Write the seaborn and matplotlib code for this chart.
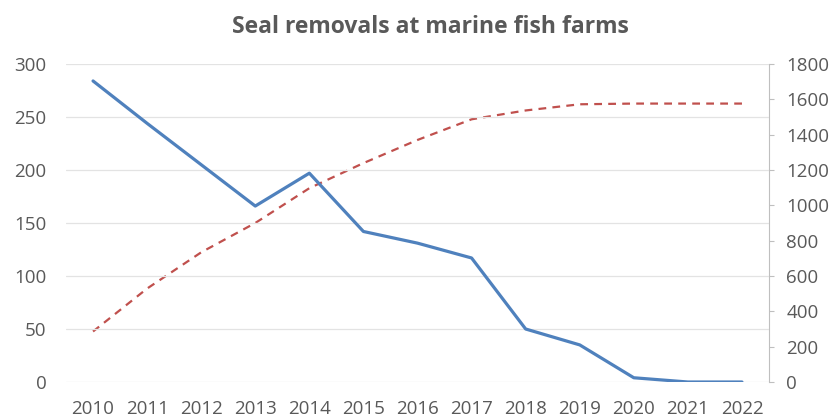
import matplotlib
matplotlib.use("Agg")
import matplotlib.pyplot as plt
import seaborn as sns
import pandas as pd

years = ["2010", "2011", "2012", "2013", "2014", "2015", "2016",
         "2017", "2018", "2019", "2020", "2021", "2022"]
removals = [284, 244, 205, 166, 197, 142, 131, 117, 50, 35, 4, 0, 0]
cumulative = [286, 529, 734, 900, 1097, 1239, 1370, 1487, 1537, 1572, 1576, 1576, 1576]
left_ticks = [0, 50, 100, 150, 200, 250, 300]
right_ticks = [0, 200, 400, 600, 800, 1000, 1200, 1400, 1600, 1800]
title = "Seal removals at marine fish farms"

sns.set_theme(style="white")
plt.rcParams["font.family"] = ["Open Sans", "DejaVu Sans"]

df = pd.DataFrame({"year": years, "removals": removals, "cumulative": cumulative})
df["x"] = range(len(years))

fig = plt.figure(figsize=(8.34, 4.19), dpi=100)
ax = fig.add_axes([66 / 834, 1 - 382 / 419, (769 - 66) / 834, (382 - 64) / 419])
ax2 = ax.twinx()

grey = "#595959"

sns.lineplot(data=df, x="x", y="cumulative", ax=ax2, color="#C0504D",
             linewidth=1.6, linestyle=(0, (3.5, 2.8)), legend=False)
sns.lineplot(data=df, x="x", y="removals", ax=ax, color="#4F81BD",
             linewidth=2.3, legend=False)

ax.set_zorder(ax2.get_zorder() + 1)
ax.patch.set_visible(False)

ax.set_xlim(-0.5, len(years) - 0.5)
ax.set_ylim(0, 300)
ax2.set_ylim(0, 1800)
ax.set_yticks(left_ticks)
ax2.set_yticks(right_ticks)
ax.set_xticks(range(len(years)))
ax.set_xticklabels(years)
ax.set_xlabel("")
ax.set_ylabel("")
ax2.set_ylabel("")

for a in (ax, ax2):
    for s in a.spines.values():
        s.set_visible(False)

ax2.spines["right"].set_visible(True)
ax2.spines["right"].set_color("#BFBFBF")
ax2.spines["right"].set_linewidth(0.8)

ax.yaxis.grid(True, color="#E3E3E3", linewidth=0.9)
ax.set_axisbelow(True)
ax.tick_params(axis="y", length=0, pad=14, labelsize=13.5, labelcolor=grey)
ax.tick_params(axis="x", length=0, pad=13, labelsize=13.5, labelcolor=grey)
ax2.tick_params(axis="y", length=3.6, width=0.8, color="#BFBFBF", pad=9,
                labelsize=13.5, labelcolor=grey, right=True)

fig.text(430 / 834, 1 - 27 / 419, title, ha="center", va="center",
         fontsize=16.5, fontweight="bold", color=grey)

fig.savefig("out.png", dpi=100)
